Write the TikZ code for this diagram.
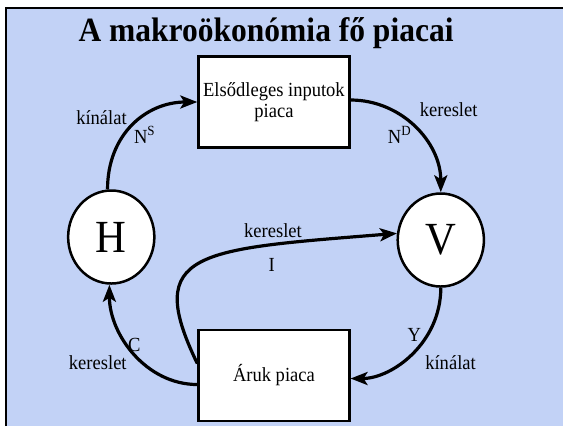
\documentclass[tikz,border=0pt]{standalone}
\usepackage{fontspec}
\setmainfont{Liberation Serif}
\usetikzlibrary{positioning,arrows.meta}
\definecolor{slidebg}{RGB}{194,210,246}

\begin{document}
\begin{tikzpicture}
		[x=1pt,y=-1pt,xscale=0.927,on grid,
		 agent/.style={circle,draw,fill=white,line width=2.5pt,minimum size=93pt,inner sep=0pt,transform shape,font=\fontsize{46}{46}\selectfont},
		 piac/.style={rectangle,draw,fill=white,line width=2.3pt,minimum width=163pt,minimum height=91pt,align=center,transform shape,font=\fontsize{20}{21}\selectfont},
		 lbl/.style={inner sep=0pt,transform shape,font=\fontsize{20}{22}\selectfont},
		 flow/.style={line width=3.2pt,-{Stealth[length=17pt,width=13pt,inset=4pt]}}]
		\useasboundingbox (0,0) rectangle (607.3,426);
		% slide background
		\fill[slidebg] (6.5,8) rectangle (607.3,426);
		\draw[line width=2pt] (6.5,426) -- (6.5,8) -- (607.3,8);
		\node[anchor=base,transform shape,font=\bfseries\fontsize{34}{40}\selectfont] (title) at (287,41) {A makroökonómia fő piacai};
		% households, firms, markets
		\node[agent] (H) at (120,237) {H};
		\node[agent] (V) at (475.5,240) {V};
		\node[piac] (inp) at (295.5,102) {Elsődleges inputok\\piaca};
		\node[piac] (goods) [below=273.5pt of inp] {Áruk piaca};
		% flows
		\draw[flow] ([xshift=-4pt]H.north) .. controls +(0,-55) and +(-55,0) .. (inp.west);
		\draw[flow] ([yshift=2pt]inp.east) .. controls +(55,0) and +(0,-50) .. (V.north);
		\draw[flow] (V.south) .. controls +(0,55) and +(45,0) .. ([yshift=-3pt]goods.east);
		\draw[flow] ([yshift=-9pt]goods.west) .. controls +(-55,0) and +(0,50) .. ([xshift=-2pt]H.south);
		\draw[flow] ([yshift=12pt]goods.west) .. controls +(-59,-113) and +(-215,16) .. (V.172);
		% labels
		\node[lbl] (sk) at (109.5,118) {kínálat};
		\node[lbl] (ns) at (156,135) {N\textsuperscript{S}};
		\node[lbl] (dk) at (484,110) {kereslet};
		\node[lbl] (nd) at (431,135) {N\textsuperscript{D}};
		\node[lbl] (ik) at (294.5,231) {kereslet};
		\node[lbl] (ii) at (293,265) {I};
		\node[lbl] (cc) at (145,345) {C};
		\node[lbl] (ck) at (105.5,363) {kereslet};
		\node[lbl] (yy) at (447,335) {Y};
		\node[lbl] (yk) at (486,363) {kínálat};
\end{tikzpicture}
\end{document}
